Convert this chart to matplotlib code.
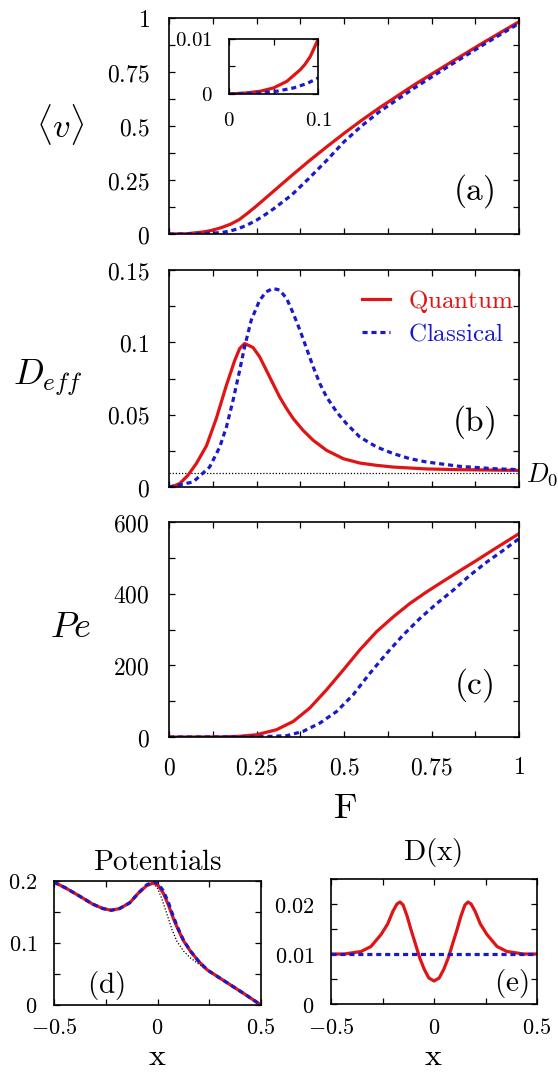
import numpy as np
import matplotlib
matplotlib.use("Agg")
import matplotlib.pyplot as plt
from matplotlib.ticker import MultipleLocator, FuncFormatter

plt.rcParams['mathtext.fontset'] = 'cm'
plt.rcParams['font.family'] = ['DejaVu Serif']

RED = '#e01414'
BLUE = '#1a1acc'
DASH = (0, (1.6, 1.2))

# (a) mean velocity vs F
F_v = [0, 0.05, 0.1, 0.125, 0.15, 0.175, 0.2, 0.225, 0.25, 0.275, 0.3, 0.35, 0.4, 0.45, 0.5, 0.55, 0.6, 0.7, 0.8, 0.9, 1.0]
v_quantum = [0, 0.0011, 0.010, 0.018, 0.030, 0.045, 0.066, 0.097, 0.130, 0.165, 0.200, 0.270, 0.338, 0.403, 0.466,
             0.526, 0.583, 0.690, 0.790, 0.888, 0.983]
v_classical = [0, 0.0005, 0.003, 0.004, 0.007, 0.014, 0.026, 0.043, 0.064, 0.090, 0.118, 0.180, 0.258, 0.340, 0.427,
               0.500, 0.565, 0.675, 0.778, 0.878, 0.975]

# inset of (a)
F_in_q = [0, 0.02, 0.035, 0.05, 0.065, 0.08, 0.085, 0.0913, 0.095, 0.1]
v_in_q = [0, 0.0002, 0.0005, 0.0011, 0.0023, 0.0044, 0.0053, 0.0068, 0.0081, 0.0099]
F_in_c = [0, 0.0347, 0.0536, 0.0725, 0.0875, 0.1]
v_in_c = [0, 0.0002, 0.0005, 0.0011, 0.0019, 0.0029]

# (b) effective diffusion vs F
F_Dq = [0, 0.015, 0.031, 0.054, 0.078, 0.107, 0.135, 0.164, 0.188, 0.202, 0.216, 0.240, 0.259, 0.278, 0.297, 0.316,
        0.336, 0.355, 0.383, 0.412, 0.450, 0.498, 0.545, 0.593, 0.641, 0.736, 0.831, 1.0]
D_quantum = [0, 0.0008, 0.0025, 0.0081, 0.0162, 0.0285, 0.0473, 0.0704, 0.0877, 0.0958, 0.0992, 0.0965, 0.090, 0.0808,
             0.0715, 0.0623, 0.0542, 0.0473, 0.0392, 0.0323, 0.0254, 0.0196, 0.0166, 0.0150, 0.0138, 0.0125, 0.0120, 0.0115]
F_Dc = [0, 0.069, 0.116, 0.145, 0.164, 0.183, 0.202, 0.216, 0.235, 0.259, 0.278, 0.297, 0.316, 0.336, 0.355, 0.374,
        0.393, 0.412, 0.431, 0.450, 0.479, 0.507, 0.545, 0.593, 0.641, 0.688, 0.736, 0.831, 0.927, 1.0]
D_classical = [0, 0.0035, 0.0138, 0.0277, 0.0415, 0.060, 0.0808, 0.097, 0.1154, 0.1292, 0.135, 0.1373, 0.1362,
               0.1304, 0.120, 0.1085, 0.0958, 0.0831, 0.0715, 0.0623, 0.0519, 0.0438, 0.0346, 0.0277, 0.0231,
               0.0196, 0.0173, 0.0143, 0.0127, 0.0120]
D0 = 0.01

# (c) Peclet number vs F
F_Pq = [0, 0.15, 0.2, 0.25, 0.307, 0.355, 0.402, 0.45, 0.498, 0.545, 0.593, 0.641, 0.688, 0.736, 0.784, 0.831, 0.879, 0.927, 1.0]
Pe_quantum = [0, 0.5, 2, 6.5, 20.4, 43.6, 80.7, 131.7, 187.3, 243, 294, 335.5, 372.6, 405, 435, 464, 493, 523, 567.5]
F_Pc = [0, 0.25, 0.336, 0.383, 0.431, 0.479, 0.526, 0.574, 0.622, 0.669, 0.717, 0.765, 0.812, 0.86, 0.908, 0.955, 1.0]
Pe_classical = [0, 0.5, 3.7, 15.8, 39, 71.4, 117.8, 178, 233.7, 284.7, 331, 372.6, 409.7, 451.4, 488.4, 520.9, 553.6]

# (d) potentials
x_pot = [-0.5, -0.443, -0.378, -0.313, -0.264, -0.224, -0.183, -0.134, -0.093, -0.053, -0.020, 0.004, 0.028,
         0.053, 0.077, 0.102, 0.126, 0.159, 0.199, 0.240, 0.289, 0.354, 0.419, 0.467, 0.5]
U_quantum = [0.198, 0.1885, 0.1758, 0.1626, 0.1555, 0.1527, 0.1555, 0.1648, 0.1802, 0.1923, 0.1967, 0.1923, 0.1802,
             0.1610, 0.1390, 0.1198, 0.1033, 0.0868, 0.0703, 0.0566, 0.0460, 0.0320, 0.0180, 0.0072, 0.0]
U_classical = [0.198, 0.1885, 0.1758, 0.1626, 0.1555, 0.1527, 0.1555, 0.1648, 0.1802, 0.1935, 0.1990, 0.1950, 0.1840,
               0.1650, 0.1420, 0.1215, 0.1040, 0.0870, 0.0703, 0.0566, 0.0460, 0.0320, 0.0180, 0.0072, 0.0]
x_bare = [-0.5, -0.443, -0.378, -0.313, -0.264, -0.224, -0.183, -0.134, -0.093, -0.053, -0.020, 0.0, 0.020, 0.045,
          0.069, 0.093, 0.126, 0.159, 0.199, 0.240, 0.289, 0.354, 0.419, 0.467, 0.5]
U_bare = [0.198, 0.1885, 0.1758, 0.1626, 0.1555, 0.1527, 0.1555, 0.1648, 0.1802, 0.1923, 0.1967, 0.188, 0.172, 0.147,
          0.1225, 0.103, 0.0868, 0.0758, 0.066, 0.0566, 0.0460, 0.0320, 0.0180, 0.0072, 0.0]

# (e) position dependent diffusion
x_D = [-0.5, -0.435, -0.354, -0.306, -0.257, -0.225, -0.2, -0.18, -0.165, -0.15, -0.13, -0.112, -0.09, -0.07, -0.047,
       -0.025, 0.0, 0.025, 0.047, 0.07, 0.09, 0.112, 0.13, 0.15, 0.165, 0.18, 0.2, 0.225, 0.257, 0.306, 0.354, 0.435, 0.5]
Dx_quantum = [0.0100, 0.0100, 0.0105, 0.0115, 0.0139, 0.0160, 0.0185, 0.0200, 0.0204, 0.0198, 0.0175, 0.0149, 0.0120,
              0.0093, 0.0069, 0.0052, 0.0046, 0.0052, 0.0069, 0.0093, 0.0120, 0.0149, 0.0175, 0.0198, 0.0204, 0.0200,
              0.0185, 0.0160, 0.0139, 0.0115, 0.0105, 0.0100, 0.0100]
x_Dc = [-0.5, 0.5]
Dx_classical = [0.01, 0.01]


def fmt(v, pos):
    return r'$%g$' % round(v, 6)


def style(ax, xmaj, xmin, ymaj, ymin, size, pad, length):
    ax.xaxis.set_major_locator(MultipleLocator(xmaj))
    ax.xaxis.set_minor_locator(MultipleLocator(xmin))
    ax.yaxis.set_major_locator(MultipleLocator(ymaj))
    ax.yaxis.set_minor_locator(MultipleLocator(ymin))
    ax.xaxis.set_major_formatter(FuncFormatter(fmt))
    ax.yaxis.set_major_formatter(FuncFormatter(fmt))
    ax.tick_params(which='both', direction='in', top=True, right=True, length=length, width=0.9,
                   labelsize=size, pad=pad)
    for s in ax.spines.values():
        s.set_linewidth(1.2)


fig = plt.figure(figsize=(5.58, 10.73), dpi=100)

# ---- (a)
ax_a = fig.add_axes([0.3029, 0.7819, 0.6272, 0.2013])
ax_a.plot(F_v, v_quantum, color=RED, lw=2.3)
ax_a.plot(F_v, v_classical, color=BLUE, lw=2.3, linestyle=DASH)
ax_a.set_xlim(0, 1)
ax_a.set_ylim(0, 1)
style(ax_a, 0.25, 0.125, 0.25, 0.125, 17, 14, 4)
ax_a.tick_params(labelbottom=False)
ax_a.text(0.871, 0.199, r'$\mathrm{(a)}$', transform=ax_a.transAxes, fontsize=24, ha='center', va='center')

ins = fig.add_axes([0.4104, 0.9124, 0.1595, 0.0513])
ins.plot(F_in_q, v_in_q, color=RED, lw=2.3)
ins.plot(F_in_c, v_in_c, color=BLUE, lw=2.3, linestyle=DASH)
ins.set_xlim(0, 0.1)
ins.set_ylim(0, 0.01)
style(ins, 0.1, 0.05, 0.01, 0.005, 15, 12, 4)

# ---- (b)
ax_b = fig.add_axes([0.3029, 0.5461, 0.6272, 0.2022])
ax_b.axhline(D0, color='black', lw=0.9, linestyle=(0, (1, 1.5)))
lq, = ax_b.plot(F_Dq, D_quantum, color=RED, lw=2.3)
lc, = ax_b.plot(F_Dc, D_classical, color=BLUE, lw=2.3, linestyle=DASH)
ax_b.set_xlim(0, 1)
ax_b.set_ylim(0, 0.15)
style(ax_b, 0.25, 0.125, 0.05, 0.025, 17, 14, 4)
ax_b.tick_params(labelbottom=False)
ax_b.text(0.871, 0.30, r'$\mathrm{(b)}$', transform=ax_b.transAxes, fontsize=24, ha='center', va='center')
ax_b.legend([lq, lc], [r'$\mathrm{Quantum}$', r'$\mathrm{Classical}$'], loc='upper left',
            bbox_to_anchor=(0.552, 0.918), frameon=False, fontsize=18, labelcolor='linecolor',
            handlelength=1.1, handletextpad=0.75, labelspacing=0.3, borderpad=0, borderaxespad=0)

# ---- (c)
ax_c = fig.add_axes([0.3029, 0.3131, 0.6272, 0.2004])
ax_c.plot(F_Pq, Pe_quantum, color=RED, lw=2.3)
ax_c.plot(F_Pc, Pe_classical, color=BLUE, lw=2.3, linestyle=DASH)
ax_c.set_xlim(0, 1)
ax_c.set_ylim(0, 600)
style(ax_c, 0.25, 0.125, 200, 100, 17, 14, 4)
ax_c.text(0.871, 0.242, r'$\mathrm{(c)}$', transform=ax_c.transAxes, fontsize=24, ha='center', va='center')

# ---- (d)
ax_d = fig.add_axes([0.0968, 0.0634, 0.3710, 0.1156])
ax_d.plot(x_bare, U_bare, color='black', lw=0.9, linestyle=(0, (1, 1.5)))
ax_d.plot(x_pot, U_quantum, color=RED, lw=2.3)
ax_d.plot(x_pot, U_classical, color=BLUE, lw=2.3, linestyle=DASH)
ax_d.set_xlim(-0.5, 0.5)
ax_d.set_ylim(0, 0.2)
style(ax_d, 0.5, 0.25, 0.1, 0.05, 16, 12, 4)
ax_d.tick_params(axis='x', pad=9)
ax_d.text(0.251, 0.16, r'$\mathrm{(d)}$', transform=ax_d.transAxes, fontsize=21, ha='center', va='center')

# ---- (e)
ax_e = fig.add_axes([0.5932, 0.0643, 0.3692, 0.1165])
ax_e.plot(x_D, Dx_quantum, color=RED, lw=2.3)
ax_e.plot(x_Dc, Dx_classical, color=BLUE, lw=2.3, linestyle=DASH)
ax_e.set_xlim(-0.5, 0.5)
ax_e.set_ylim(0, 0.025)
style(ax_e, 0.5, 0.25, 0.01, 0.005, 16, 12, 4)
ax_e.tick_params(axis='x', pad=9)
ax_e.text(0.874, 0.168, r'$\mathrm{(e)}$', transform=ax_e.transAxes, fontsize=21, ha='center', va='center')

# axis labels and titles
fig.text(0.1075, 0.8844, r'$\langle v\rangle$', fontsize=25, ha='center', va='center')
fig.text(0.086, 0.6412, r'$D_{eff}$', fontsize=26, ha='center', va='baseline')
fig.text(0.1254, 0.4063, r'$Pe$', fontsize=26, ha='center', va='baseline')
fig.text(0.618, 0.2377, r'$\mathrm{F}$', fontsize=26, ha='center', va='baseline')
fig.text(0.943, 0.5517, r'$D_0$', fontsize=19, ha='left', va='baseline')
fig.text(0.282, 0.189, r'$\mathrm{Potentials}$', fontsize=21, ha='center', va='baseline')
fig.text(0.776, 0.1985, r'$\mathrm{D(x)}$', fontsize=21, ha='center', va='baseline')
fig.text(0.282, 0.001, r'$\mathrm{x}$', fontsize=23, ha='center', va='bottom')
fig.text(0.776, 0.001, r'$\mathrm{x}$', fontsize=23, ha='center', va='bottom')

fig.savefig('out.png', dpi=100)
